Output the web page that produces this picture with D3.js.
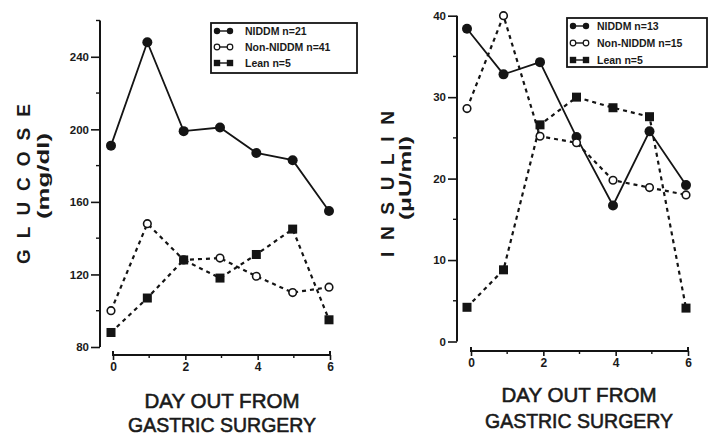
<!DOCTYPE html>
<html>
<head>
<meta charset="utf-8">
<script src="https://cdn.jsdelivr.net/npm/d3@7"></script>
<style>
  html, body { margin: 0; padding: 0; background: #fff; }
  svg { display: block; }
  text { font-family: "Liberation Sans", Arial, sans-serif; fill: #1a1a1a; }
</style>
</head>
<body>
<svg id="chart" width="709" height="439"></svg>
<script>
// ---- data ----
const days = [0, 1, 2, 3, 4, 5, 6];
const xTickLabels = [0, 2, 4, 6];

const glucoseTicks = [80, 120, 160, 200, 240];
const glucoseNIDDM    = [191, 248, 199, 201, 187, 183, 155];
const glucoseNonNIDDM = [100, 148, 128, 129, 119, 110, 113];
const glucoseLean     = [88, 107, 128, 118, 131, 145, 95];
const glucoseLegend   = ["NIDDM n=21", "Non-NIDDM n=41", "Lean n=5"];

const insulinTicks = [0, 10, 20, 30, 40];
const insulinNIDDM    = [38.4, 32.8, 34.3, 25.1, 16.7, 25.8, 19.2];
const insulinNonNIDDM = [28.6, 40, 25.2, 24.4, 19.8, 18.9, 18.0];
const insulinLean     = [4.2, 8.8, 26.6, 30.0, 28.7, 27.6, 4.1];
const insulinLegend   = ["NIDDM n=13", "Non-NIDDM n=15", "Lean n=5"];

const ink = "#141414";
const svg = d3.select("#chart");

function panel(cfg) {
  const g = svg.append("g");
  const x = d3.scaleLinear().domain([0, 6]).range(cfg.xRange);
  const y = d3.scaleLinear().domain(cfg.yDomain).range(cfg.yRange);

  // y axis
  const yAxis = d3.axisLeft(y).tickValues(cfg.yTicks).tickSize(9).tickPadding(2)
    .tickFormat(d3.format("d"));
  const ya = g.append("g").attr("transform", `translate(${cfg.yAxisX},0)`).call(yAxis);
  ya.select(".domain").attr("stroke", ink).attr("stroke-width", 2)
    .attr("d", `M0,${y(cfg.yDomain[0])}V${y(cfg.yDomain[1])}`);
  ya.selectAll(".tick line").attr("stroke", ink).attr("stroke-width", 1.6);
  ya.selectAll(".tick text").attr("font-size", 11.5).attr("font-weight", "bold")
    .attr("fill", ink).style("font-family", "'Liberation Sans Narrow', 'Liberation Sans', sans-serif");
  // minor y ticks
  g.append("g").selectAll("line").data(cfg.yMinor).join("line")
    .attr("x1", cfg.yAxisX - 4).attr("x2", cfg.yAxisX)
    .attr("y1", d => y(d)).attr("y2", d => y(d))
    .attr("stroke", ink).attr("stroke-width", 1.4);

  // x axis
  const xm = d3.scaleLinear().domain([0, 6]).range(cfg.xAxisRange);
  const xAxis = d3.axisBottom(xm)
    .tickValues(xTickLabels).tickSize(5).tickPadding(2).tickFormat(d3.format("d"));
  const xa = g.append("g").attr("transform", `translate(0,${cfg.xAxisY})`).call(xAxis);
  xa.select(".domain").attr("stroke", ink).attr("stroke-width", 2)
    .attr("d", `M${cfg.xAxisRange[0]},-4V0H${cfg.xAxisRange[1]}V-4`);
  xa.selectAll(".tick line").attr("stroke", ink).attr("stroke-width", 1.6);
  xa.selectAll(".tick text").attr("font-size", 12).attr("font-weight", "bold").attr("fill", ink)
    .style("font-family", "'Liberation Sans Narrow', 'Liberation Sans', sans-serif");
  g.append("g").selectAll("line").data([1, 3, 5]).join("line")
    .attr("x1", d => xm(d)).attr("x2", d => xm(d))
    .attr("y1", cfg.xAxisY).attr("y2", cfg.xAxisY + 3)
    .attr("stroke", ink).attr("stroke-width", 1.4);

  // series
  const line = d3.line().x((d, i) => x(days[i])).y(d => y(d));
  const series = [
    { data: cfg.s1, dash: null, marker: "filledCircle" },
    { data: cfg.s2, dash: "4,4", marker: "openCircle" },
    { data: cfg.s3, dash: "4,4", marker: "square" }
  ];
  series.forEach(s => {
    g.append("path").datum(s.data).attr("d", line).attr("fill", "none")
      .attr("stroke", ink).attr("stroke-width", s.dash ? 2.2 : 1.8)
      .attr("stroke-dasharray", s.dash);
  });
  series.forEach(s => {
    const mg = g.append("g");
    if (s.marker === "square") {
      mg.selectAll("rect").data(s.data).join("rect")
        .attr("x", (d, i) => x(days[i]) - 4.5).attr("y", d => y(d) - 4.5)
        .attr("width", 9).attr("height", 9).attr("fill", ink);
    } else if (s.marker === "filledCircle") {
      mg.selectAll("circle").data(s.data).join("circle")
        .attr("cx", (d, i) => x(days[i])).attr("cy", d => y(d)).attr("r", 5)
        .attr("fill", ink);
    } else {
      mg.selectAll("circle").data(s.data).join("circle")
        .attr("cx", (d, i) => x(days[i])).attr("cy", d => y(d)).attr("r", 3.8)
        .attr("fill", "#fff").attr("stroke", ink).attr("stroke-width", 1.6);
    }
  });

  // legend
  const L = cfg.legend;
  const lg = g.append("g");
  lg.append("rect").attr("x", L.x).attr("y", L.y).attr("width", L.w).attr("height", L.h)
    .attr("fill", "#fff").attr("stroke", ink).attr("stroke-width", 1.8);
  cfg.legendLabels.forEach((lab, i) => {
    const cy = L.y + 8 + i * L.rowH;
    const x0 = L.x + 6, x1 = L.x + 19;
    lg.append("line").attr("x1", x0).attr("x2", x1).attr("y1", cy).attr("y2", cy)
      .attr("stroke", ink).attr("stroke-width", 1.4);
    [x0, x1].forEach(cx => {
      if (i === 0) lg.append("circle").attr("cx", cx).attr("cy", cy).attr("r", 3.2).attr("fill", ink);
      else if (i === 1) lg.append("circle").attr("cx", cx).attr("cy", cy).attr("r", 2.8)
        .attr("fill", "#fff").attr("stroke", ink).attr("stroke-width", 1.2);
      else lg.append("rect").attr("x", cx - 3.2).attr("y", cy - 3.2).attr("width", 6.4).attr("height", 6.4).attr("fill", ink);
    });
    lg.append("text").attr("x", L.x + L.textOff).attr("y", cy + 3.8)
      .attr("font-size", 10.5).attr("font-weight", "bold").text(lab);
  });

  // y title
  const t = g.append("g");
  t.append("text").attr("transform", `translate(${cfg.yTitle.x},${cfg.yTitle.cy}) rotate(-90)`)
    .attr("text-anchor", "middle").attr("font-size", 19).attr("font-weight", "bold")
    .attr("textLength", cfg.yTitle.len).attr("lengthAdjust", "spacing")
    .text(cfg.yTitle.text);
  t.append("text").attr("transform", `translate(${cfg.yUnit.x},${cfg.yUnit.cy}) rotate(-90)`)
    .attr("text-anchor", "middle").attr("font-size", 16).attr("font-weight", "bold")
    .attr("textLength", cfg.yUnit.len).attr("lengthAdjust", "spacingAndGlyphs")
    .text(cfg.yUnit.text);

  // x title
  [["DAY OUT FROM", cfg.xTitle.y1, 155], ["GASTRIC SURGERY", cfg.xTitle.y2, 188]].forEach(([s, yy, len]) => {
    g.append("text").attr("x", cfg.xTitle.cx).attr("y", yy)
      .attr("text-anchor", "middle").attr("font-size", 21)
      .attr("stroke", "#1a1a1a").attr("stroke-width", 0.6)
      .attr("textLength", len).attr("lengthAdjust", "spacingAndGlyphs").text(s);
  });
}

panel({
  xRange: [111, 329], xAxisRange: [113, 330], xAxisY: 355,
  yDomain: [80, 260], yRange: [347, 20.5], yAxisX: 100,
  yTicks: glucoseTicks, yMinor: [100, 140, 180, 220, 260],
  s1: glucoseNIDDM, s2: glucoseNonNIDDM, s3: glucoseLean,
  legend: { x: 211, y: 23, w: 146, h: 50, rowH: 16, textOff: 34 },
  legendLabels: glucoseLegend,
  yTitle: { x: 30, cy: 184, len: 160, text: "GLUCOSE" },
  yUnit: { x: 49, cy: 176, len: 86, text: "(mg/dl)" },
  xTitle: { cx: 222, y1: 408, y2: 432 }
});

panel({
  xRange: [467, 686], xAxisRange: [471, 688], xAxisY: 351,
  yDomain: [0, 40], yRange: [341.5, 15.7], yAxisX: 457,
  yTicks: insulinTicks, yMinor: [5, 15, 25, 35],
  s1: insulinNIDDM, s2: insulinNonNIDDM, s3: insulinLean,
  legend: { x: 567, y: 18, w: 140, h: 49, rowH: 17, textOff: 30 },
  legendLabels: insulinLegend,
  yTitle: { x: 394, cy: 184, len: 146, text: "INSULIN" },
  yUnit: { x: 411, cy: 178, len: 84, text: "(\u03bcU/ml)" },
  xTitle: { cx: 579, y1: 402, y2: 428 }
});
</script>
</body>
</html>
